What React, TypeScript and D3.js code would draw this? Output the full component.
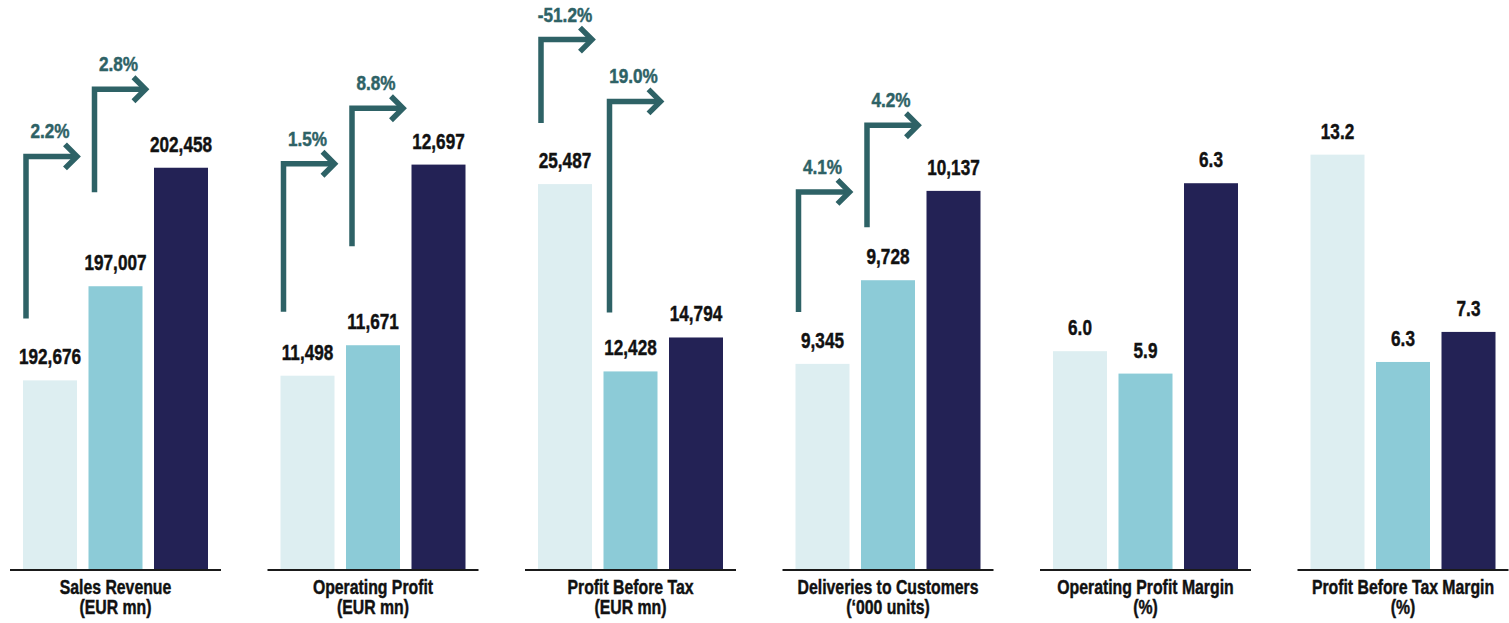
import React from "react";
import * as d3 from "d3";

// ---- data ----
const categories = [
  "Sales Revenue",
  "Operating Profit",
  "Profit Before Tax",
  "Deliveries to Customers",
  "Operating Profit Margin",
  "Profit Before Tax Margin",
];
const units = ["(EUR mn)", "(EUR mn)", "(EUR mn)", "(‘000 units)", "(%)", "(%)"];

const period1 = [192676, 11498, 25487, 9345, 5.97, 13.2];
const period2 = [197007, 11671, 12428, 9728, 5.93, 6.3];
const period3 = [202458, 12697, 14794, 10137, 6.27, 7.3];

const labelFormats = [",", ",", ",", ",", ".1f", ".1f"];

// growth rates shown on the arrows (first four categories)
const growth1 = [2.2, 1.5, -51.2, 4.1];
const growth2 = [2.8, 8.8, 19.0, 4.2];

// per-category value axis domains (truncated axes)
const domainMin = [184000, 10400, -1345, 8406, 5.581, -0.59];
const domainMax = [207000, 13240, 33510, 10695, 6.474, 16.05];

// ---- layout / style ----
const W = 1509;
const H = 623;
const BASE = 569;
const TOP = 69;
const GROUP_X0 = 10;
const GROUP_STEP = 257.5;
const GROUP_W = 211;
const BAR_COLORS = ["#DDEEF1", "#8CCBD7", "#232255"];
const ARROW_COLOR = "#2E6266";
const FONT = "'Liberation Sans', Arial, Helvetica, sans-serif";
// arrow gap below value label baseline and rise (px)
const arrowGap = [
  [46, 78],
  [48, 83],
  [45, 43],
  [36, 37],
];
const arrowRise = [
  [162, 103],
  [148, 138],
  [83.5, 211],
  [120, 102],
];

function CondText({ x, y, sx, size, fill, children }: any) {
  return (
    <text
      transform={`translate(${x},${y}) scale(${sx},1)`}
      textAnchor="middle"
      fontFamily={FONT}
      fontWeight="bold"
      fontSize={size}
      fill={fill}
      stroke={fill}
      strokeWidth={0.45}
    >
      {children}
    </text>
  );
}

export default function App() {
  const pfmt = d3.formatLocale({
    decimal: ".",
    thousands: ",",
    grouping: [3],
    currency: ["", ""],
    minus: "-",
  }).format(".1f");

  const groups = categories.map((cat, g) => {
    const x0 = GROUP_X0 + g * GROUP_STEP;
    const xb = d3
      .scaleBand<number>()
      .domain([0, 1, 2])
      .range([x0 + 13, x0 + 198])
      .paddingInner(0.1756)
      .paddingOuter(0);
    const y = d3.scaleLinear().domain([domainMin[g], domainMax[g]]).range([BASE, TOP]);
    const vals = [period1[g], period2[g], period3[g]];
    const fmt = d3.format(labelFormats[g]);
    const bw = xb.bandwidth();

    const arrows =
      g < growth1.length
        ? [growth1[g], growth2[g]].map((gr, i) => {
            const bx = xb(i)!;
            const labelBase = y(vals[i]) - 16;
            const bottom = labelBase - arrowGap[g][i];
            const top = bottom - arrowRise[g][i];
            const vx = bx + 3 + 3 * i;
            const tx = bx + bw + 3 * i;
            return (
              <g key={`a${i}`}>
                <path
                  d={`M${vx},${bottom}V${top}H${tx}`}
                  fill="none"
                  stroke={ARROW_COLOR}
                  strokeWidth={5.5}
                  strokeLinejoin="miter"
                />
                <polyline
                  points={`${tx - 12},${top - 12} ${tx},${top} ${tx - 12},${top + 12}`}
                  fill="none"
                  stroke={ARROW_COLOR}
                  strokeWidth={5.5}
                  strokeLinejoin="miter"
                />
                <CondText x={bx + bw / 2 + 3 * i} y={top - 18} sx={0.88} size={19.5} fill={ARROW_COLOR}>
                  {pfmt(gr) + "%"}
                </CondText>
              </g>
            );
          })
        : null;

    return (
      <g key={cat}>
        {vals.map((v, i) => (
          <rect
            key={i}
            x={xb(i)}
            y={y(v)}
            width={bw}
            height={BASE - y(v)}
            fill={BAR_COLORS[i]}
          />
        ))}
        {vals.map((v, i) => (
          <CondText key={`l${i}`} x={xb(i)! + bw / 2} y={y(v) - 16} sx={0.78} size={22} fill="#111">
            {fmt(v)}
          </CondText>
        ))}
        <line x1={x0} x2={x0 + GROUP_W} y1={570} y2={570} stroke="#1a1a1a" strokeWidth={2} />
        <CondText x={x0 + GROUP_W / 2} y={594} sx={0.79} size={20} fill="#111">
          {cat}
        </CondText>
        <CondText x={x0 + GROUP_W / 2} y={614} sx={0.79} size={20} fill="#111">
          {units[g]}
        </CondText>
        {arrows}
      </g>
    );
  });

  return (
    <svg
      width={W}
      height={H}
      style={{ position: "absolute", left: 0, top: 0, background: "#fff" }}
    >
      {groups}
    </svg>
  );
}
